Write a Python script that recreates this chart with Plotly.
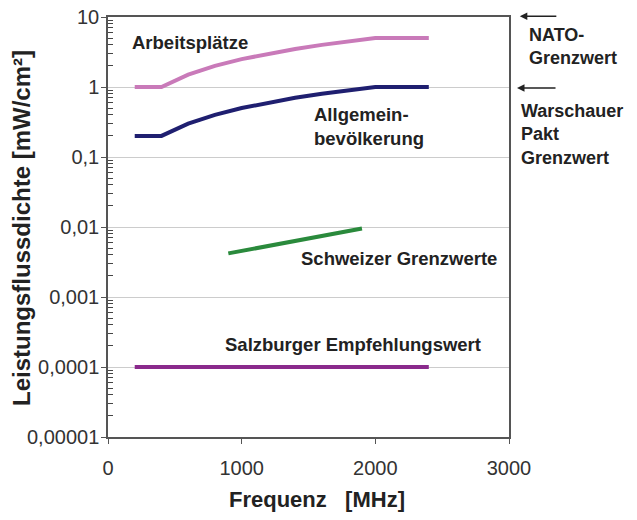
import plotly.graph_objects as go

# Data
freq_limits = [200, 400, 600, 800, 1000, 1200, 1400, 1600, 1800, 2000, 2400]
arbeitsplaetze = [1, 1, 1.5, 2, 2.5, 3, 3.5, 4, 4.5, 5, 5]
allgemein = [0.2, 0.2, 0.3, 0.4, 0.5, 0.6, 0.7, 0.8, 0.9, 1, 1]
freq_schweiz = [900, 1900]
schweiz = [0.0042, 0.0095]
freq_salzburg = [200, 2400]
salzburg = [0.0001, 0.0001]

y_tickvals = [10, 1, 0.1, 0.01, 0.001, 0.0001, 0.00001]
y_ticktext = ["10", "1", "0,1", "0,01", "0,001", "0,0001", "0,00001"]
x_tickvals = [0, 1000, 2000, 3000]
x_ticktext = ["0", "1000", "2000", "3000"]

FONT = "Liberation Sans, Arial, sans-serif"
TXT = "#222222"

fig = go.Figure()
fig.add_trace(go.Scatter(x=freq_limits, y=arbeitsplaetze, mode="lines",
                         line=dict(color="#c97ab9", width=4), name="Arbeitsplätze"))
fig.add_trace(go.Scatter(x=freq_limits, y=allgemein, mode="lines",
                         line=dict(color="#1f1f70", width=4), name="Allgemeinbevölkerung"))
fig.add_trace(go.Scatter(x=freq_schweiz, y=schweiz, mode="lines",
                         line=dict(color="#2a8a3c", width=4), name="Schweizer Grenzwerte"))
fig.add_trace(go.Scatter(x=freq_salzburg, y=salzburg, mode="lines",
                         line=dict(color="#8a2a8c", width=4), name="Salzburger Empfehlungswert"))
# invisible carrier trace so the minor-tick overlay axis is drawn
fig.add_trace(go.Scatter(x=freq_salzburg, y=salzburg, yaxis="y2", mode="none",
                         hoverinfo="skip", showlegend=False))

# minor log tick positions (2..9 within each decade)
minor_vals = [m * 10 ** e for e in range(-5, 1) for m in range(2, 10)]

fig.update_layout(
    width=637, height=520,
    margin=dict(l=108, r=128, t=17, b=83),
    paper_bgcolor="white", plot_bgcolor="white",
    showlegend=False,
    font=dict(family=FONT, color=TXT),
    xaxis=dict(
        range=[0, 3000], tickvals=x_tickvals, ticktext=x_ticktext,
        showgrid=False, zeroline=False, automargin=False,
        showline=True, mirror=True, linecolor="#555555", linewidth=1.5,
        ticks="outside", ticklen=5, tickcolor="#555555",
        ticklabelstandoff=7,
        tickfont=dict(size=20, color="#333333"),
    ),
    yaxis=dict(
        type="log", range=[-5, 1], tickvals=y_tickvals, ticktext=y_ticktext,
        showgrid=True, gridcolor="#cccccc", gridwidth=1, zeroline=False, automargin=False,
        showline=True, mirror=True, linecolor="#555555", linewidth=1.5,
        ticks="outside", ticklen=5, tickcolor="#555555",
        ticklabelstandoff=-2,
        tickfont=dict(size=20, color="#333333"),
    ),
    yaxis2=dict(
        type="log", range=[-5, 1], overlaying="y", anchor="x", side="left",
        tickmode="array", tickvals=minor_vals, showticklabels=False,
        ticks="inside", ticklen=5, tickwidth=1, tickcolor="#444444",
        showgrid=False, zeroline=False, showline=False, automargin=False,
    ),
)

# axis titles
fig.add_annotation(text="<b>Frequenz\u00a0\u00a0\u00a0[MHz]</b>", x=0.52, y=-0.15,
                   xref="paper", yref="paper",
                   xanchor="center", yanchor="middle", showarrow=False,
                   font=dict(size=22, color=TXT, family=FONT))
fig.add_annotation(text="<b>Leistungsflussdichte [mW/cm²]</b>", x=-0.214, y=0.498,
                   xref="paper", yref="paper", xanchor="center", yanchor="middle",
                   textangle=-90, showarrow=False,
                   font=dict(size=24, color=TXT, family=FONT))

def label(text, x, y, size=18.5):
    fig.add_annotation(text=text, x=x, y=y, xref="paper", yref="paper",
                       xanchor="left", yanchor="middle", align="left", showarrow=False,
                       font=dict(size=size, color=TXT, family=FONT))

label("<b>Arbeitsplätze</b>", 0.055, 0.940)
label("<b>Allgemein-<br>bevölkerung</b>", 0.509, 0.740)
label("<b>Schweizer Grenzwerte</b>", 0.476, 0.425)
label("<b>Salzburger Empfehlungswert</b>", 0.287, 0.221)
label("<b>NATO-<br>Grenzwert</b>", 1.045, 0.929, 18)
label("<b>Warschauer<br>Pakt<br>Grenzwert</b>", 1.024, 0.721, 18)

for (xt, yt, axp) in [(1.027, 1.002, 38), (1.020, 0.831, 40)]:
    fig.add_annotation(x=xt, y=yt, xref="paper", yref="paper", text="",
                       showarrow=True, ax=axp, ay=0, arrowhead=2, arrowsize=1,
                       arrowwidth=1.5, arrowcolor="#222222")

fig.write_html("out.html", config={"displayModeBar": False},
               post_script="document.body.style.margin='0';")
